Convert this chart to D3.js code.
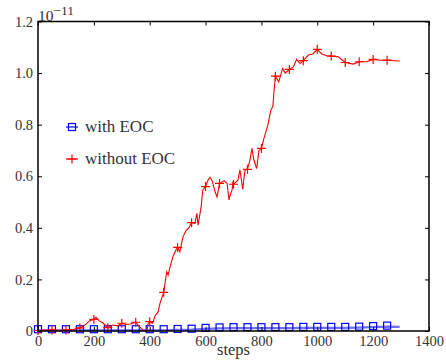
<!DOCTYPE html>
<html>
<head>
<meta charset="utf-8">
<script src="https://cdn.jsdelivr.net/npm/d3@7"></script>
<style>
  body { margin: 0; background: #fff; }
  svg text { font-family: 'Liberation Serif', 'DejaVu Serif', serif; fill: #333; }
</style>
</head>
<body>
<div id="chart"></div>
<script>
// values in units of 1e-11
var redSteps = [0, 20, 50, 75, 100, 125, 150, 170, 185, 200, 208, 218, 232, 250, 268, 285, 300, 315, 330, 350,
    365, 376, 390, 394, 400, 410, 419, 430, 437, 450, 461, 466, 473, 483, 494, 500, 508, 519, 530, 540,
    550, 562, 569, 573, 584, 590, 600, 609, 616, 623, 634, 641, 650, 666, 677, 684, 688, 695, 698, 700,
    716, 723, 733, 741, 750, 759, 766, 773, 783, 791, 800, 809, 823, 834, 841, 845, 850, 862, 876, 885,
    900, 914, 926, 938, 950, 968, 984, 1000, 1016, 1034, 1050, 1075, 1100, 1129, 1150, 1177, 1200, 1228, 1250, 1295];
var redValues = [0.002, 0.004, 0.004, 0.003, 0.004, 0.006, 0.012, 0.025, 0.04, 0.045, 0.053, 0.04, 0.032, 0.013, 0.023, 0.02, 0.03, 0.025, 0.027, 0.034,
    0.015, 0.004, 0.0, 0.027, 0.036, 0.03, 0.058, 0.074, 0.108, 0.15, 0.23, 0.217, 0.25, 0.288, 0.314, 0.324, 0.307, 0.365, 0.389, 0.40,
    0.42, 0.417, 0.456, 0.41, 0.48, 0.547, 0.56, 0.585, 0.596, 0.585, 0.54, 0.52, 0.572, 0.583, 0.572, 0.508, 0.527, 0.547, 0.579, 0.569,
    0.585, 0.625, 0.55, 0.624, 0.627, 0.663, 0.708, 0.663, 0.63, 0.70, 0.708, 0.747, 0.798, 0.857, 0.87, 0.93, 0.988, 0.966, 1.018, 1.0,
    1.014, 1.024, 1.053, 1.037, 1.048, 1.07, 1.074, 1.092, 1.074, 1.067, 1.066, 1.063, 1.041, 1.035, 1.044, 1.044, 1.053, 1.05, 1.05, 1.047];

var blueSteps = [0, 50, 100, 150, 200, 250, 300, 350, 400, 450, 500, 550, 600, 650, 700, 750, 800, 850, 900,
    950, 1000, 1050, 1100, 1150, 1200, 1250, 1295];
var blueValues = [0.003, 0.003, 0.003, 0.003, 0.003, 0.003, 0.003, 0.003, 0.003, 0.003, 0.004, 0.005, 0.008, 0.01, 0.011, 0.011, 0.011, 0.011, 0.011,
    0.012, 0.012, 0.012, 0.012, 0.013, 0.015, 0.017, 0.016];

var xTicks = [0, 200, 400, 600, 800, 1000, 1200, 1400];
var yTicks = [0, 0.2, 0.4, 0.6, 0.8, 1.0, 1.2];
var yTickLabels = ["0", "0.2", "0.4", "0.6", "0.8", "1.0", "1.2"];
var seriesNames = ["with EOC", "without EOC"];

var width = 446, height = 362;
var margin = {left: 38, right: 17, top: 21.5, bottom: 31};
var serif = "'Liberation Serif', 'DejaVu Serif', serif";

var svg = d3.select("#chart").append("svg")
    .attr("width", width)
    .attr("height", height);

var x = d3.scaleLinear().domain([0, 1400]).range([margin.left, width - margin.right]);
var y = d3.scaleLinear().domain([0, 1.2]).range([height - margin.bottom, margin.top]);

var red = redSteps.map(function (s, i) { return {s: s, v: redValues[i]}; });
var blue = blueSteps.map(function (s, i) { return {s: s, v: blueValues[i]}; });

var line = d3.line()
    .x(function (d) { return x(d.s); })
    .y(function (d) { return y(d.v); });

function plusPath(cx, cy, r) {
    return "M" + (cx - r) + "," + cy + "H" + (cx + r) + "M" + cx + "," + (cy - r) + "V" + (cy + r);
}

// blue series
svg.append("path")
    .datum(blue)
    .attr("d", line)
    .attr("fill", "none")
    .attr("stroke", "#7070ff")
    .attr("stroke-width", 2.2);

svg.selectAll(".sq")
    .data(blue.filter(function (d) { return d.s % 50 == 0; }))
    .enter().append("rect")
    .attr("x", function (d) { return x(d.s) - 3.5; })
    .attr("y", function (d) { return y(d.v) - 3.5 - 1; })
    .attr("width", 7)
    .attr("height", 7)
    .attr("fill", "none")
    .attr("stroke", "#0000ff")
    .attr("stroke-width", 1.2);

// red series
svg.append("path")
    .datum(red)
    .attr("d", line)
    .attr("fill", "none")
    .attr("stroke", "#ff0000")
    .attr("stroke-width", 1.1);

svg.selectAll(".pl")
    .data(red.filter(function (d) { return d.s % 50 == 0 && d.s <= 1250; }))
    .enter().append("path")
    .attr("d", function (d) { return plusPath(x(d.s), y(d.v), 4.5); })
    .attr("stroke", "#ff0000")
    .attr("stroke-width", 1.2)
    .attr("fill", "none");

// axes box
var x0 = margin.left, x1 = width - margin.right, y0 = height - margin.bottom, y1 = margin.top;
svg.append("rect")
    .attr("x", x0).attr("y", y1)
    .attr("width", x1 - x0).attr("height", y0 - y1)
    .attr("fill", "none")
    .attr("stroke", "#000")
    .attr("stroke-width", 1.5);

svg.append("g")
    .attr("transform", "translate(0," + y0 + ")")
    .call(d3.axisBottom(x).tickValues(xTicks).tickSizeInner(-4).tickSizeOuter(0).tickPadding(5)
        .tickFormat(d3.format("d")))
    .call(function (g) { g.select(".domain").remove(); });

svg.append("g")
    .attr("transform", "translate(0," + y1 + ")")
    .call(d3.axisTop(x).tickValues(xTicks).tickSizeInner(-4).tickSizeOuter(0).tickFormat(""))
    .call(function (g) { g.select(".domain").remove(); });

svg.append("g")
    .attr("transform", "translate(" + x0 + ",0)")
    .call(d3.axisLeft(y).tickValues(yTicks).tickSizeInner(-4).tickSizeOuter(0).tickPadding(5)
        .tickFormat(function (d, i) { return yTickLabels[i]; }))
    .call(function (g) { g.select(".domain").remove(); });

svg.append("g")
    .attr("transform", "translate(" + x1 + ",0)")
    .call(d3.axisRight(y).tickValues(yTicks).tickSizeInner(-4).tickSizeOuter(0).tickFormat(""))
    .call(function (g) { g.select(".domain").remove(); });

svg.selectAll(".tick text")
    .attr("font-family", serif)
    .attr("font-size", 14.5)
    .attr("fill", "#333");
svg.selectAll(".tick line").attr("stroke", "#000").attr("stroke-width", 1);

// exponent
var expo = svg.append("text")
    .attr("x", x0)
    .attr("y", 20.5)
    .attr("font-family", serif)
    .attr("font-size", 15.5);
expo.append("tspan").text("10");
expo.append("tspan").attr("dy", -6).attr("font-size", 13.5).text("\u221211");

// x label
svg.append("text")
    .attr("x", (x0 + x1) / 2)
    .attr("y", 355)
    .attr("text-anchor", "middle")
    .attr("font-family", serif)
    .attr("font-size", 16.5)
    .text("steps");

// legend
var leg = svg.append("g").attr("font-family", serif).attr("font-size", 17);
leg.append("line").attr("x1", 66).attr("x2", 78).attr("y1", 127).attr("y2", 127)
    .attr("stroke", "#0000ff").attr("stroke-width", 1.2);
leg.append("rect").attr("x", 68.5).attr("y", 123.5).attr("width", 7).attr("height", 7)
    .attr("fill", "none").attr("stroke", "#0000ff").attr("stroke-width", 1.2);
leg.append("text").attr("x", 85).attr("y", 131.5).text(seriesNames[0]);

leg.append("line").attr("x1", 66).attr("x2", 78).attr("y1", 159).attr("y2", 159)
    .attr("stroke", "#ff0000").attr("stroke-width", 1.2);
leg.append("path").attr("d", plusPath(72, 159, 4.5))
    .attr("stroke", "#ff0000").attr("stroke-width", 1.2);
leg.append("text").attr("x", 85).attr("y", 163.5).text(seriesNames[1]);
</script>
</body>
</html>
